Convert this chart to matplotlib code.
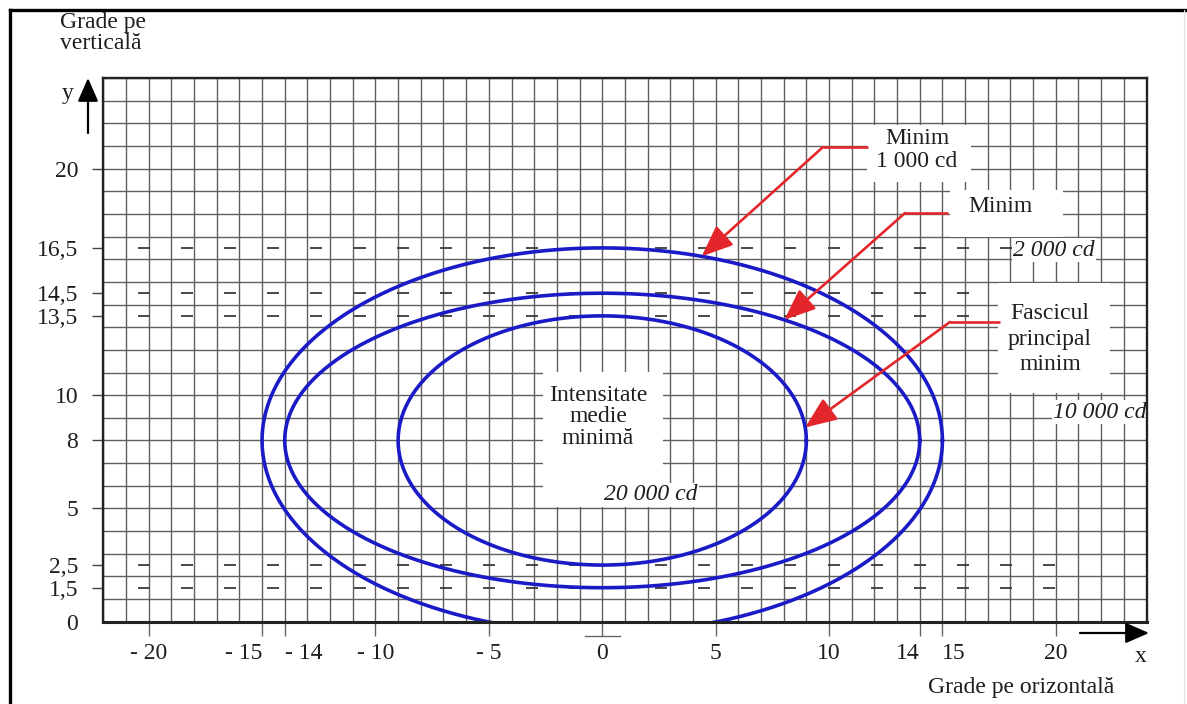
import numpy as np
import matplotlib
matplotlib.use("Agg")
import matplotlib.pyplot as plt
from matplotlib.ticker import MultipleLocator
from matplotlib.patches import Rectangle, FancyArrowPatch
from matplotlib.lines import Line2D

# ---- data -----------------------------------------------------------------
# isocandela contours (ellipses centred on y = 8 degrees)
contour_center_y = 8
contour_half_width = [15, 14, 9]          # horizontal half-extent (degrees)
contour_top = [16.5, 14.5, 13.5]          # upper apex (degrees)
arrow_angle_deg = [73, 55, 6]             # where each red arrow touches its contour

x_ticks = [-20, -15, -14, -10, -5, 0, 5, 10, 14, 15, 20]
y_ticks = [0, 1.5, 2.5, 5, 8, 10, 13.5, 14.5, 16.5, 20]

# short dash marks along the characteristic levels
dash_rows = [1.5, 2.5, 13.5, 14.5, 16.5]
dash_x = [-20.2, -18.3, -16.4, -14.5, -12.6, -10.7, -8.8, -6.9, -5.0, -3.1,
          -1.2, 0.7, 2.6, 4.5, 6.4, 8.3, 10.2, 12.1, 14.0, 15.9, 17.8, 19.7]

# ---- figure ----------------------------------------------------------------
plt.rcParams['font.family'] = ['Liberation Serif', 'DejaVu Serif']
FS = 17
TXT = '#1e1e1e'
BLUE = '#1a1ac6'
RED = '#e3262b'

W, H = 1187, 704
fig = plt.figure(figsize=(W / 100, H / 100), dpi=100)
fig.patch.set_facecolor('white')

L, R, T, B = 103.3, 1146.5, 78.0, 621.7
ax = fig.add_axes([L / W, 1 - B / H, (R - L) / W, (B - T) / H])
ax.set_xlim(-22, 24)
ax.set_ylim(0, 24)


def px(x, y):
    """figure pixel (from top-left) -> data coordinates"""
    return (-22 + (x - L) / (R - L) * 46, (B - y) / (B - T) * 24)


# graph-paper grid: one line per degree
ax.set_axisbelow(True)
for axis in (ax.xaxis, ax.yaxis):
    axis.set_minor_locator(MultipleLocator(1))
    axis.remove_overlapping_locs = False
ax.grid(which='minor', color='#5f5f5f', lw=1.0)
ax.grid(which='major', visible=False)
ax.tick_params(which='minor', length=0)

# ticks and labels
ax.set_xticks(x_ticks, labels=[("- %d" % -v) if v < 0 else "%d" % v for v in x_ticks])
ax.set_yticks(y_ticks, labels=[("%g" % v).replace('.', ',') for v in y_ticks])
ax.tick_params(axis='x', which='major', direction='out', length=10, width=1.0,
               color='#666666', pad=5, labelsize=FS, labelcolor=TXT)
ax.tick_params(axis='y', which='major', direction='out', length=8, width=1.0,
               color='#444444', pad=10, labelsize=FS, labelcolor=TXT)
ax.yaxis.get_major_ticks()[0].tick1line.set_visible(False)

# the close pairs (-15/-14 and 14/15) are set apart to either side of their ticks
for v, lab in zip(x_ticks, ax.get_xticklabels()):
    if v in (-15, 14):
        lab.set_horizontalalignment('right')
    elif v in (-14, 15):
        lab.set_horizontalalignment('left')

for side, sp in ax.spines.items():
    sp.set_color('#222222')
    sp.set_linewidth(2.2 if side == 'bottom' else 1.7)

# small bar under the origin tick
ax.plot([-0.75, 0.8], [-0.63, -0.63], color='#666666', lw=1.0, clip_on=False)

# dash marks
DX, DY = np.meshgrid(dash_x, dash_rows)
ax.plot(DX.ravel(), DY.ravel(), ls='none', marker='_', ms=8, mew=1.3,
        color='#3a3a3a', zorder=0.8)

# white label panels
for (x0, y0, x1, y1) in [(543, 372, 663, 507),     # Intensitate medie minimă
                         (867, 125, 971, 182),     # Minim 1 000 cd
                         (950, 190, 1063, 237),    # Minim
                         (998, 283, 1110, 393)]:   # Fascicul principal minim
    (dx0, dy1), (dx1, dy0) = px(x0, y0), px(x1, y1)
    ax.add_patch(Rectangle((dx0, dy0), dx1 - dx0, dy1 - dy0, facecolor='white',
                           edgecolor='none', zorder=1))

# contours
t = np.linspace(0, 2 * np.pi, 721)
for a, top in zip(contour_half_width, contour_top):
    b = top - contour_center_y
    ax.plot(a * np.cos(t), contour_center_y + b * np.sin(t), color=BLUE, lw=2.6,
            zorder=2)

# red leader arrows
corners = [(868, 823, 147), (948, 905, 213), (1000, 950, 322)]
for (xs, xc, yc), a, top, ang in zip(corners, contour_half_width, contour_top,
                                     arrow_angle_deg):
    b = top - contour_center_y
    tip = (a * np.cos(np.radians(ang)), contour_center_y + b * np.sin(np.radians(ang)))
    s, c = px(xs, yc), px(xc, yc)
    ax.plot([s[0], c[0]], [s[1], c[1]], color=RED, lw=1.9, zorder=3,
            solid_capstyle='butt')
    ax.annotate('', xy=tip, xytext=c,
                arrowprops=dict(arrowstyle='-|>,head_length=0.8,head_width=0.33',
                                color=RED, lw=1.9, shrinkA=0, shrinkB=0,
                                mutation_scale=24), zorder=3)

# labels
def label(x, y, s, **kw):
    dx, dy = px(x, y)
    kw.setdefault('zorder', 4)
    ax.text(dx, dy, s, ha='center', va='center', fontsize=FS, color=TXT, **kw)

label(598, 417, "Intensitate\nmedie\nminimă", linespacing=1.02)
label(651, 495, "20 000 cd", style='italic',
      bbox=dict(facecolor='white', edgecolor='none', pad=1))
label(917, 150, "Minim\n1 000 cd", linespacing=1.08)
label(1000, 207, "Minim")
label(1054, 250, "2 000 cd", style='italic',
      bbox=dict(facecolor='white', edgecolor='none', pad=1))
label(1050, 339, "Fascicul\nprincipal\nminim", linespacing=1.3)
label(1100, 412, "10 000 cd", style='italic', zorder=2.4,
      bbox=dict(facecolor='white', edgecolor='none', pad=1))

# axis titles and arrows outside the plotting area
fig.text(60 / W, 1 - 12 / H, "Grade pe\nverticală", ha='left', va='top',
         fontsize=FS, color=TXT, linespacing=1.0)
fig.text(1021 / W, 1 - 688 / H, "Grade pe orizontală", ha='center', va='center',
         fontsize=FS, color=TXT)
fig.text(68 / W, 1 - 94 / H, "y", ha='center', va='center', fontsize=FS, color=TXT)
fig.text(1141 / W, 1 - 657 / H, "x", ha='center', va='center', fontsize=FS, color=TXT)

arrow_kw = dict(arrowstyle='-|>,head_length=0.8,head_width=0.35', color='black',
                lw=1.6, shrinkA=0, shrinkB=0, mutation_scale=18)
fig.add_artist(FancyArrowPatch((88 / W, 1 - 133 / H), (88 / W, 1 - 78 / H),
                               transform=fig.transFigure, **arrow_kw))
fig.add_artist(FancyArrowPatch((1080 / W, 1 - 633 / H), (1149 / W, 1 - 633 / H),
                               transform=fig.transFigure, **arrow_kw))

# page border
fig.add_artist(Line2D([10 / W, 10 / W], [0, 1 - 10 / H], transform=fig.transFigure,
                      color='black', lw=2.4))
fig.add_artist(Line2D([10 / W, 1], [1 - 10 / H, 1 - 10 / H], transform=fig.transFigure,
                      color='black', lw=2.4))
fig.add_artist(Line2D([1184 / W, 1184 / W], [0, 1 - 10 / H], transform=fig.transFigure,
                      color='#e2e2e2', lw=0.8))

fig.savefig('out.png', dpi=100)
